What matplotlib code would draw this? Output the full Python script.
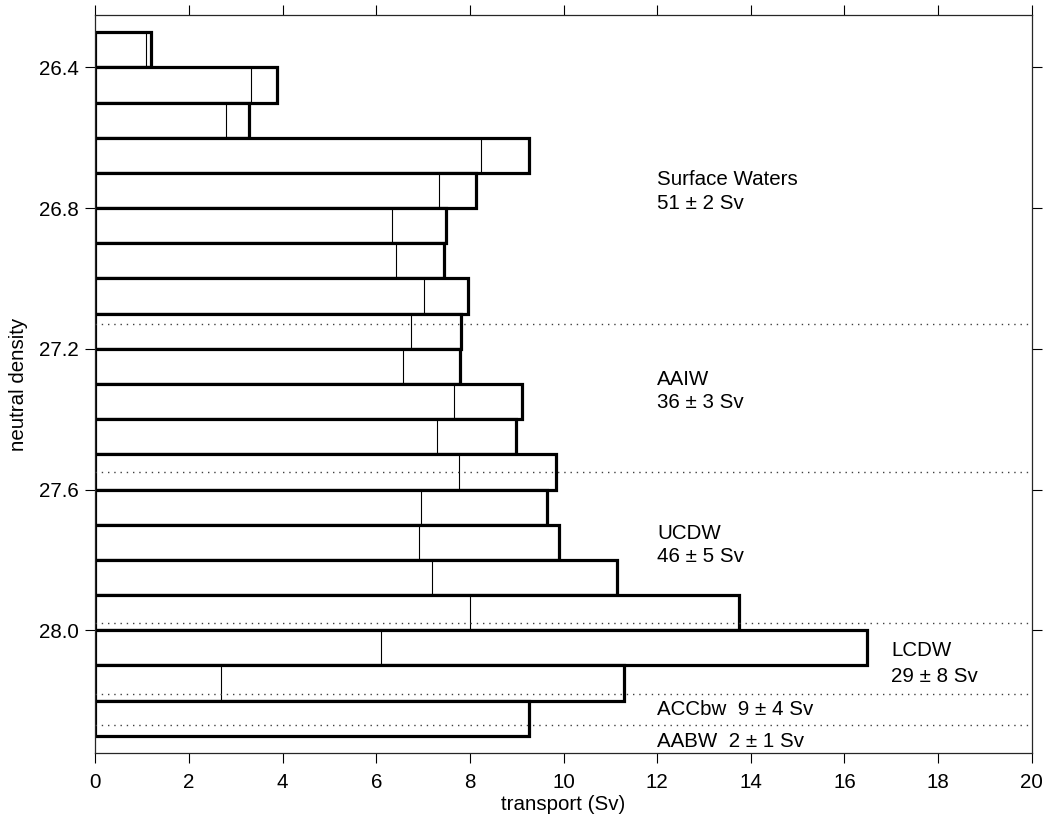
import matplotlib
matplotlib.use("Agg")
import matplotlib.pyplot as plt
import numpy as np

plt.rcParams['font.family'] = ['Liberation Sans', 'DejaVu Sans']
plt.rcParams['font.size'] = 14.8

# density bins (upper edge of each 0.1 layer)
layer_top = [26.3, 26.4, 26.5, 26.6, 26.7, 26.8, 26.9, 27.0, 27.1, 27.2,
             27.3, 27.4, 27.5, 27.6, 27.7, 27.8, 27.9, 28.0, 28.1, 28.2]
layer_height = 0.1
# total transport per layer (thick bars)
transport_total = [1.19, 3.87, 3.28, 9.26, 8.12, 7.48, 7.44, 7.97, 7.82, 7.79,
                   9.12, 8.98, 9.83, 9.64, 9.90, 11.14, 13.75, 16.48, 11.29, 9.27]
# inner (thin line) transport per layer
transport_inner = [1.09, 3.32, 2.80, 8.24, 7.33, 6.33, 6.42, 7.03, 6.74, 6.57,
                   7.65, 7.30, 7.76, 6.95, 6.91, 7.19, 8.00, 6.11, 2.69, np.nan]
# water-mass boundaries (dotted lines)
boundaries = [27.13, 27.55, 27.98, 28.18, 28.27]

# labels: (x, y, text)
label_x = [12.0, 12.0, 12.0, 12.0, 12.0, 12.0, 12.0, 12.0, 17.0, 17.0, 12.0, 12.0]
label_y = [26.735, 26.801, 27.302, 27.367, 27.740, 27.805, 28.074, 28.148,
           28.074, 28.148, 28.241, 28.332]
label_text = ["Surface Waters", "51 \u00b1 2 Sv", "AAIW", "36 \u00b1 3 Sv",
              "UCDW", "46 \u00b1 5 Sv", "", "",
              "LCDW", "29 \u00b1 8 Sv", "ACCbw  9 \u00b1 4 Sv", "AABW  2 \u00b1 1 Sv"]

xticks = [0, 2, 4, 6, 8, 10, 12, 14, 16, 18, 20]
yticks = [26.4, 26.8, 27.2, 27.6, 28.0]
ytick_labels = ["26.4", "26.8", "27.2", "27.6", "28.0"]

fig = plt.figure(figsize=(10.5, 8.18), dpi=100)
ax = fig.add_axes([0.0908, 0.0791, 0.8918, 0.9029])

centers = np.array(layer_top) + layer_height / 2
ax.barh(centers, transport_total, height=layer_height, left=0,
        facecolor='white', edgecolor='black', linewidth=2.3, zorder=2)
tops = np.array(layer_top)
ax.vlines(transport_inner, tops, tops + layer_height, colors='black',
          linewidth=0.8, zorder=3)

for b in boundaries:
    ax.axhline(b, color='0.25', linewidth=1.0, linestyle=(0, (1, 3.5)), zorder=4)

for x, y, t in zip(label_x, label_y, label_text):
    if t:
        ax.text(x, y, t, ha='left', va='baseline', fontsize=14.8)

ax.set_xlim(0, 20)
ax.set_ylim(28.35, 26.25)
ax.set_xticks(xticks)
ax.set_yticks(yticks)
ax.set_yticklabels(ytick_labels)
ax.tick_params(direction='out', length=7, width=0.8, top=True, right=True,
               labeltop=False, labelright=False)
ax.tick_params(axis='x', pad=7)
ax.tick_params(axis='y', pad=5)
for s in ax.spines.values():
    s.set_linewidth(0.9)
    s.set_color('0.15')
ax.set_xlabel("transport (Sv)", labelpad=2)
ax.set_ylabel("neutral density", labelpad=8)

fig.savefig("out.png", dpi=100)
